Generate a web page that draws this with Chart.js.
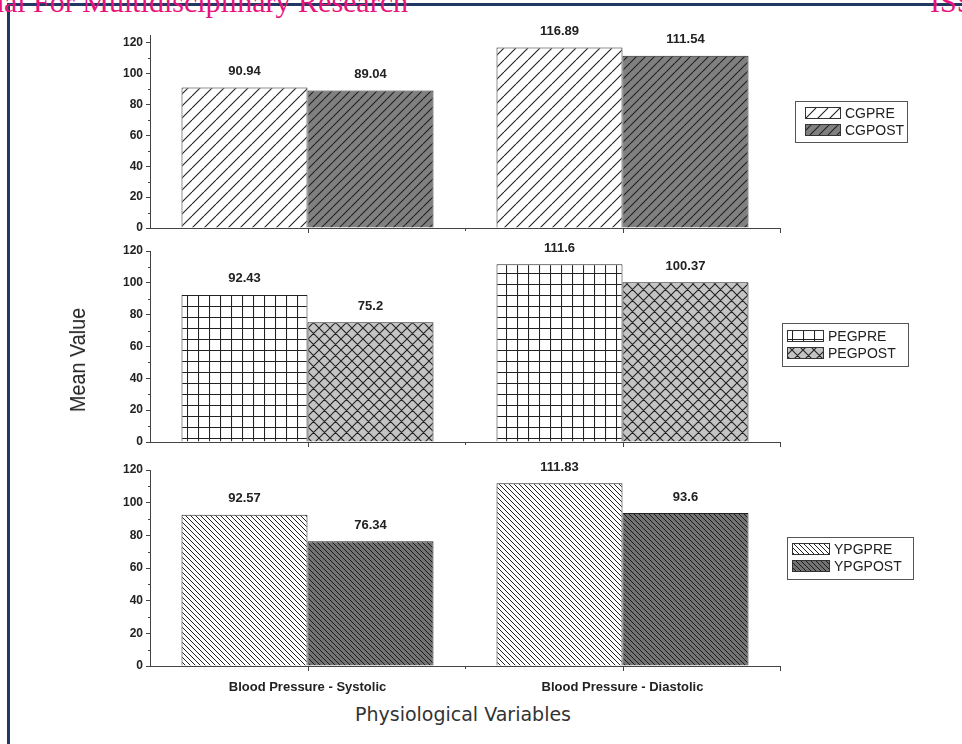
<!DOCTYPE html>
<html><head><meta charset="utf-8">
<script src="https://cdn.jsdelivr.net/npm/chart.js@4.4.1/dist/chart.umd.min.js"></script>
<style>
html,body{margin:0;padding:0;background:#fff;}
body{width:962px;height:744px;position:relative;overflow:hidden;font-family:"Liberation Sans",Arial,sans-serif;}
canvas.cv{position:absolute;left:0;}
#frameTop{position:absolute;left:7px;top:3px;width:955px;height:3px;background:#1f3864;}
#frameLeft{position:absolute;left:7px;top:3px;width:3px;height:741px;background:#1f3864;}
.hdr{position:absolute;top:-13px;font-family:"Liberation Serif","Times New Roman",serif;font-size:30px;line-height:30px;color:#e8127c;white-space:nowrap;}
#ytitle{position:absolute;left:78px;top:360px;transform:translate(-50%,-50%) rotate(-90deg) scaleX(0.9);font-size:22px;color:#222;white-space:nowrap;}
#xtitle{position:absolute;left:463px;top:714px;transform:translate(-50%,-50%);font-family:"DejaVu Sans",sans-serif;font-size:19px;color:#333;white-space:nowrap;}
</style></head><body>
<div id="frameTop"></div><div id="frameLeft"></div>
<div class="hdr" style="right:554px;text-align:right;">International Journal For Multidisciplinary Research</div>
<div class="hdr" style="left:930px;">ISSN: 2582-2160</div>
<canvas class="cv" id="p1" width="962" height="240" style="top:0px"></canvas>
<canvas class="cv" id="p2" width="962" height="215" style="top:240px"></canvas>
<canvas class="cv" id="p3" width="962" height="245" style="top:455px"></canvas>
<div id="ytitle">Mean Value</div>
<div id="xtitle">Physiological Variables</div>
<script>
// ---------- data ----------
const categories = ["Blood Pressure - Systolic", "Blood Pressure - Diastolic"];
const cgLabels = ["CGPRE", "CGPOST"];
const cgPre = [90.94, 116.89];
const cgPost = [89.04, 111.54];
const pegLabels = ["PEGPRE", "PEGPOST"];
const pegPre = [92.43, 111.6];
const pegPost = [75.2, 100.37];
const ypgLabels = ["YPGPRE", "YPGPOST"];
const ypgPre = [92.57, 111.83];
const ypgPost = [76.34, 93.6];
const yTickStep = 20;

// ---------- patterns ----------
function pattern(kind, bg, w, h, lw, col) {
  const c = document.createElement('canvas');
  c.width = w; c.height = h;
  const g = c.getContext('2d');
  g.fillStyle = bg; g.fillRect(0, 0, w, h);
  g.strokeStyle = col; g.lineWidth = lw;
  g.beginPath();
  if (kind === 'fwd' || kind === 'cross') {
    for (let k = -1; k <= 1; k++) { g.moveTo(k * w, h); g.lineTo(k * w + w, 0); }
  }
  if (kind === 'back' || kind === 'cross') {
    for (let k = -1; k <= 1; k++) { g.moveTo(k * w, 0); g.lineTo(k * w + w, h); }
  }
  if (kind === 'grid') {
    g.moveTo(0.5, 0); g.lineTo(0.5, h);
    g.moveTo(0, 0.5); g.lineTo(w, 0.5);
  }
  g.stroke();
  return document.createElement('canvas').getContext('2d').createPattern(c, 'repeat');
}
const pCgPre = pattern('fwd', '#ffffff', 12, 12, 1.1, '#222');
const pCgPost = pattern('fwd', '#808080', 9, 9, 1.1, '#222');
const pPegPre = pattern('grid', '#ffffff', 11, 11, 1.1, '#222');
const pPegPost = pattern('cross', '#c4c4c4', 11, 11, 1.1, '#222');
const pYpgPre = pattern('back', '#ffffff', 5, 5, 1, '#222');
const pYpgPost = pattern('back', '#737373', 5, 5, 1, '#1a1a1a');

// ---------- plugins ----------
const decor = {
  id: 'decor',
  afterDatasetsDraw(chart, args, o) {
    const ctx = chart.ctx;
    const ys = chart.scales.y, xs = chart.scales.x;
    const ca = chart.chartArea;
    ctx.save();
    // value labels
    ctx.fillStyle = '#222';
    ctx.font = 'bold 13px "Liberation Sans", Arial, sans-serif';
    ctx.textAlign = 'center';
    ctx.textBaseline = 'middle';
    chart.data.datasets.forEach((ds, di) => {
      chart.getDatasetMeta(di).data.forEach((bar, i) => {
        ctx.fillText(String(ds.data[i]), bar.x, bar.y - 16);
      });
    });
    // minor y ticks
    ctx.strokeStyle = '#444'; ctx.lineWidth = 1;
    ctx.beginPath();
    for (let v = yTickStep / 2; v < ys.max; v += yTickStep) {
      const py = Math.round(ys.getPixelForValue(v)) + 0.5;
      ctx.moveTo(ca.left - 2, py); ctx.lineTo(ca.left, py);
    }
    // x ticks: centres and boundaries
    const n = chart.data.labels.length;
    for (let i = 0; i < n; i++) {
      const px = Math.round(xs.getPixelForValue(i)) + 0.5;
      ctx.moveTo(px, ca.bottom); ctx.lineTo(px, ca.bottom + 5);
      if (i < n - 1) {
        const bx = Math.round((xs.getPixelForValue(i) + xs.getPixelForValue(i + 1)) / 2) + 0.5;
        ctx.moveTo(bx, ca.bottom); ctx.lineTo(bx, ca.bottom + 3);
      }
    }
    ctx.moveTo(ca.right + 0.5, ca.bottom); ctx.lineTo(ca.right + 0.5, ca.bottom + 5);
    ctx.stroke();
    // legend
    const L = o.box;
    if (L) {
      ctx.strokeStyle = '#555'; ctx.lineWidth = 1;
      ctx.strokeRect(L.x + 0.5, L.y + 0.5, L.w, L.h);
      ctx.font = '14px "Liberation Sans", Arial, sans-serif';
      ctx.textAlign = 'left';
      chart.data.datasets.forEach((ds, di) => {
        const ry = L.rows[di];
        ctx.fillStyle = ds.backgroundColor;
        ctx.fillRect(L.sx, ry, L.sw, L.sh);
        ctx.strokeStyle = '#333';
        ctx.strokeRect(L.sx + 0.5, ry + 0.5, L.sw - 1, L.sh - 1);
        ctx.fillStyle = '#222';
        ctx.fillText(ds.label, L.tx, ry + L.sh / 2 + 1);
      });
    }
    ctx.restore();
  }
};

function makePanel(id, names, a, b, pa, pb, cfg) {
  new Chart(document.getElementById(id), {
    type: 'bar',
    data: {
      labels: categories,
      datasets: [
        { label: names[0], data: a, backgroundColor: pa, borderColor: '#222', borderWidth: 1 },
        { label: names[1], data: b, backgroundColor: pb, borderColor: '#222', borderWidth: 1 }
      ]
    },
    options: {
      responsive: false,
      animation: false,
      events: [],
      categoryPercentage: 0.8,
      barPercentage: 1.0,
      layout: { padding: { top: cfg.padTop, bottom: cfg.padBottom, left: 0, right: 962 - 780 } },
      plugins: { legend: { display: false }, tooltip: { enabled: false }, decor: { box: cfg.box } },
      scales: {
        x: {
          grid: { display: false, drawTicks: false },
          border: { display: true, color: '#444', width: 1 },
          ticks: {
            display: cfg.showX, padding: 14, color: '#222', maxRotation: 0,
            font: { family: '"Liberation Sans", Arial, sans-serif', size: 13, weight: 'bold' }
          },
          afterFit: s => { s.height = cfg.xHeight; }
        },
        y: {
          min: 0, max: cfg.yMax,
          grid: { display: true, drawOnChartArea: false, drawTicks: true, tickLength: 4, color: '#444' },
          border: { display: true, color: '#444', width: 1 },
          ticks: {
            stepSize: yTickStep, includeBounds: false, padding: 3, color: '#222',
            font: { family: '"Liberation Sans", Arial, sans-serif', size: 12, weight: 'bold' }
          },
          afterFit: s => { s.width = 150; }
        }
      }
    },
    plugins: [decor]
  });
}

makePanel('p1', cgLabels, cgPre, cgPost, pCgPre, pCgPost, {
  yMax: 125, padTop: 35, padBottom: 12, xHeight: 0, showX: false,
  box: { x: 795, y: 101, w: 112, h: 41, sx: 805, sw: 36, sh: 12, rows: [107, 124], tx: 845 }
});
makePanel('p2', pegLabels, pegPre, pegPost, pPegPre, pPegPost, {
  yMax: 120, padTop: 11, padBottom: 13, xHeight: 0, showX: false,
  box: { x: 782, y: 83, w: 126, h: 43, sx: 787, sw: 37, sh: 12, rows: [90, 107], tx: 828 }
});
makePanel('p3', ypgLabels, ypgPre, ypgPost, pYpgPre, pYpgPost, {
  yMax: 120, padTop: 15, padBottom: 0, xHeight: 34, showX: true,
  box: { x: 787, y: 82, w: 126, h: 42, sx: 792, sw: 38, sh: 12, rows: [88, 105], tx: 834 }
});
</script>
</body></html>
